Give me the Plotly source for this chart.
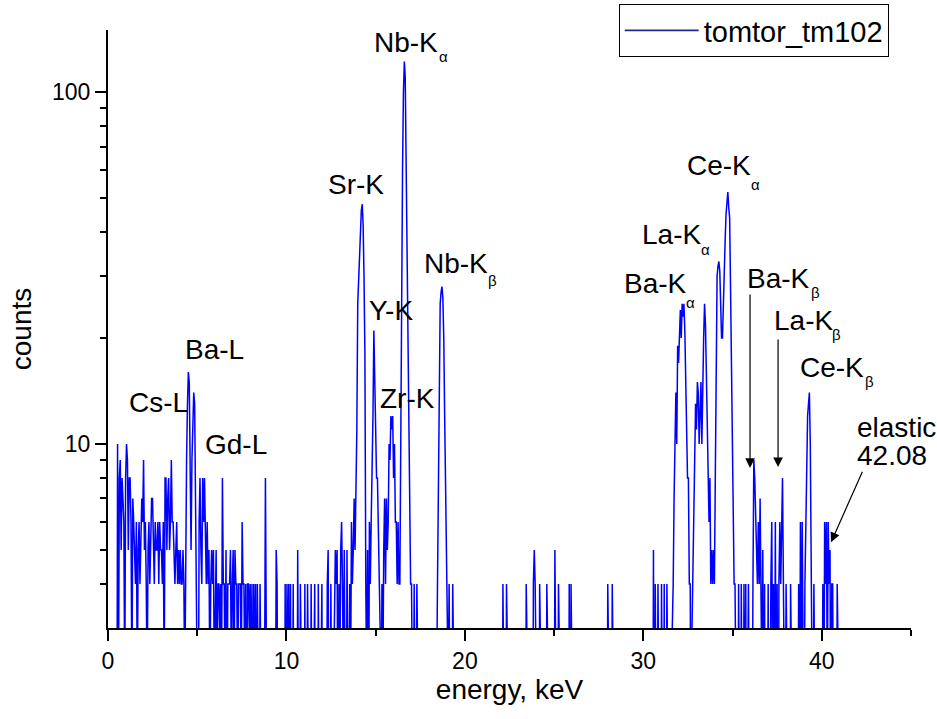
import numpy as np
import plotly.graph_objects as go

# ---------------- data ----------------
# MCA spectrum, 20 channels per row (one row ~ 1 keV), counts
calib_offset_keV = 0.034
calib_gain_keV = 0.05022

counts_rows = [
    [0, 0, 0, 0, 0, 0, 0, 0, 0, 0, 10, 2, 8, 9, 5, 8, 7, 6, 2, 8],
    [10, 9, 5, 8, 8, 6, 2, 7, 6, 5, 4, 6, 2, 5, 6, 4, 5, 7, 6, 9],
    [5, 6, 4, 2, 5, 6, 4, 5, 7, 7, 5, 4, 6, 5, 5, 6, 4, 6, 5, 5],
    [4, 6, 2, 8, 8, 5, 7, 8, 5, 6, 9, 6, 6, 5, 4, 5, 6, 4, 5, 4],
    [5, 4, 4, 5, 4, 2, 6, 9, 13, 16, 15, 8, 5, 9, 11, 14, 13, 8, 6, 2],
    [1, 6, 8, 5, 4, 8, 6, 8, 5, 4, 6, 4, 5, 2, 4, 5, 4, 5, 2, 4],
    [5, 2, 4, 4, 3, 4, 2, 8, 4, 4, 2, 5, 1, 4, 4, 4, 5, 2, 4, 5],
    [2, 5, 4, 4, 2, 4, 4, 4, 2, 6, 4, 4, 2, 4, 1, 4, 4, 3, 4, 2],
    [4, 1, 4, 2, 4, 1, 4, 2, 1, 4, 2, 1, 3, 1, 2, 8, 2, 1, 2, 1],
    [2, 1, 0, 2, 1, 0, 1, 5, 4, 1, 0, 2, 1, 0, 2, 1, 0, 4, 1, 4],
    [2, 4, 1, 4, 0, 1, 4, 0, 1, 2, 0, 5, 1, 0, 4, 0, 2, 1, 0, 4],
    [0, 1, 4, 0, 1, 0, 4, 1, 0, 2, 4, 0, 1, 0, 4, 1, 0, 2, 4, 0],
    [1, 0, 2, 1, 4, 5, 1, 0, 4, 1, 0, 2, 4, 5, 4, 5, 1, 4, 2, 5],
    [6, 4, 2, 5, 1, 0, 5, 2, 1, 4, 2, 6, 4, 5, 7, 5, 7, 11, 25, 30],
    [33, 40, 46, 48, 42, 30, 18, 4, 2, 5, 1, 6, 4, 6, 8, 12, 21, 14, 9, 8],
    [8, 6, 5, 3, 1, 4, 2, 5, 7, 4, 7, 5, 6, 10, 9, 12, 11, 12, 8, 10],
    [6, 6, 4, 6, 4, 4, 12, 22, 60, 100, 122, 110, 65, 30, 18, 9, 6, 4, 4, 1],
    [1, 4, 0, 2, 4, 0, 1, 0, 0, 1, 0, 0, 0, 1, 0, 0, 0, 0, 1, 0],
    [0, 1, 0, 0, 1, 2, 2, 4, 9, 16, 25, 27, 28, 26, 20, 12, 8, 7, 5, 2],
    [4, 1, 0, 1, 4, 0, 1, 0, 0, 1, 0, 0, 1, 0, 0, 0, 1, 0, 0, 0],
    [0, 1, 0, 0, 0, 1, 0, 0, 2, 0, 0, 0, 1, 0, 0, 0, 0, 1, 0, 0],
    [0, 0, 1, 0, 0, 0, 0, 1, 0, 0, 0, 0, 2, 0, 0, 0, 1, 0, 0, 0],
    [4, 1, 0, 0, 4, 0, 0, 1, 0, 0, 0, 0, 1, 0, 0, 0, 0, 0, 1, 0],
    [0, 0, 0, 1, 0, 0, 4, 0, 0, 1, 0, 0, 0, 0, 4, 5, 4, 0, 1, 0],
    [0, 4, 0, 1, 0, 0, 0, 0, 0, 4, 0, 0, 1, 0, 0, 0, 0, 0, 5, 0],
    [0, 0, 4, 0, 0, 1, 0, 0, 0, 0, 0, 0, 0, 0, 4, 0, 4, 0, 0, 0],
    [0, 1, 0, 0, 0, 0, 0, 0, 1, 0, 0, 0, 0, 0, 0, 1, 0, 0, 0, 0],
    [0, 0, 0, 0, 1, 0, 0, 0, 0, 0, 0, 0, 0, 0, 0, 0, 0, 4, 0, 0],
    [0, 0, 4, 0, 0, 0, 0, 1, 0, 0, 0, 0, 0, 0, 0, 0, 1, 0, 0, 0],
    [0, 0, 0, 1, 0, 0, 0, 0, 0, 0, 0, 1, 0, 0, 0, 0, 0, 0, 0, 0],
    [0, 0, 1, 0, 0, 0, 0, 0, 5, 0, 4, 0, 0, 4, 0, 0, 0, 4, 0, 0],
    [4, 0, 1, 4, 0, 1, 0, 2, 1, 3, 4, 7, 11, 14, 10, 19, 17, 22, 24, 20],
    [25, 23, 25, 21, 14, 10, 8, 8, 4, 4, 1, 3, 4, 6, 9, 13, 11, 15, 14, 10],
    [12, 15, 10, 16, 20, 25, 22, 16, 12, 8, 6, 8, 4, 5, 4, 5, 4, 8, 18, 30],
    [32, 33, 31, 24, 20, 20, 26, 32, 38, 45, 50, 52, 47, 44, 28, 18, 10, 6, 4, 4],
    [1, 2, 0, 4, 1, 0, 4, 2, 0, 4, 1, 4, 0, 2, 4, 1, 0, 2, 1, 4],
    [9, 8, 6, 5, 4, 6, 4, 7, 4, 2, 5, 1, 4, 0, 2, 1, 4, 0, 1, 4],
    [6, 2, 4, 1, 6, 1, 4, 0, 4, 6, 4, 6, 8, 4, 2, 1, 4, 1, 0, 1],
    [0, 4, 1, 0, 1, 0, 2, 0, 1, 0, 4, 1, 6, 2, 6, 4, 1, 4, 6, 9],
    [12, 13, 14, 10, 6, 4, 1, 4, 0, 1, 0, 1, 0, 0, 2, 0, 1, 4, 1, 6],
    [4, 6, 2, 6, 4, 5, 1, 4, 4, 1, 0, 1, 0, 4, 0, 0, 0, 0, 0, 0],
]

series_name = "tomtor_tm102"
x_ticks = [0, 10, 20, 30, 40]
x_minor_ticks = [5, 15, 25, 35, 45]
y_ticks = [10, 100]
y_minor_ticks = [4, 5, 6, 7, 8, 9, 20, 30, 40, 50, 60, 70, 80, 90]

# peak labels: (text, energy keV of left edge, counts at text middle)
peak_labels = [
    ("Cs-L", 1.04, 13.08), ("Ba-L", 4.18, 18.51), ("Gd-L", 5.31, 9.94),
    ("Sr-K", 12.20, 54.5), ("Y-K", 14.50, 23.88), ("Zr-K", 15.12, 13.43),
    ("Nb-K", 14.78, 138.1), ("Nb-K", 17.59, 32.5),
    ("Ba-K", 28.80, 28.5), ("La-K", 29.82, 39.3), ("Ce-K", 32.34, 61.7),
    ("Ba-K", 35.70, 29.6), ("La-K", 37.22, 22.5), ("Ce-K", 38.68, 16.45),
    ("elastic", 41.87, 11.17), ("42.08", 41.87, 9.25),
]
# subscripts: (symbol, energy keV at centre, counts at centre)
sub_labels = [
    ("α", 18.78, 126.0), ("β", 21.56, 29.1),
    ("α", 32.67, 25.3), ("α", 33.51, 35.6), ("α", 36.31, 54.5),
    ("β", 39.62, 26.9), ("β", 40.80, 20.4), ("β", 42.70, 15.0),
]
# arrows: (energy keV of head, counts at head, dx px to tail, dy px to tail)
arrows = [
    (35.98, 8.55, 0, -175),
    (37.55, 8.60, 0, -129),
    (40.52, 5.26, 32, -72),
]

# ---------------- build ----------------
counts = np.array([c for row in counts_rows for c in row], dtype=float)
energy = calib_offset_keV + calib_gain_keV * np.arange(len(counts))
# zero-count channels cannot sit on a log axis: draw them below the visible range
y_plot = np.where(counts > 0, counts, 0.5)

FONT = "Liberation Sans, Arial, sans-serif"

fig = go.Figure()
fig.add_trace(go.Scatter(
    x=energy, y=y_plot, mode="lines",
    line=dict(color="#0000ff", width=1.5),
    showlegend=False, hoverinfo="skip",
))
fig.add_trace(go.Scatter(
    x=[None], y=[None], mode="lines", name=series_name,
    line=dict(color="#1f2a8c", width=1.6),
))

ann = []
for text, ex, cy in peak_labels:
    ann.append(dict(x=ex, y=np.log10(cy), xref="x", yref="y", text=text,
                    showarrow=False, xanchor="left", yanchor="middle",
                    font=dict(family=FONT, size=28, color="black")))
for text, ex, cy in sub_labels:
    ann.append(dict(x=ex, y=np.log10(cy), xref="x", yref="y", text=text,
                    showarrow=False, xanchor="center", yanchor="middle",
                    font=dict(family=FONT, size=15, color="black")))
for ex, cy, dx, dy in arrows:
    ann.append(dict(x=ex, y=np.log10(cy), xref="x", yref="y", text="",
                    showarrow=True, ax=dx, ay=dy, arrowhead=2, arrowsize=1.6,
                    arrowwidth=1.2, arrowcolor="black"))

fig.update_layout(
    width=937, height=719,
    margin=dict(l=108, r=26, t=30, b=91, autoexpand=False),
    paper_bgcolor="white", plot_bgcolor="white",
    font=dict(family=FONT, color="black"),
    annotations=ann,
    legend=dict(x=0.636, y=1.0435, xanchor="left", yanchor="top",
                bordercolor="black", borderwidth=1, bgcolor="white",
                font=dict(family=FONT, size=29, color="black"),
                itemwidth=74),
    xaxis=dict(
        range=[0, 45], tickvals=x_ticks, ticks="outside", ticklen=11, tickwidth=1.5,
        tickcolor="black", showline=True, linewidth=2, linecolor="black",
        showgrid=False, zeroline=False,
        tickfont=dict(family=FONT, size=23, color="black"),
        minor=dict(tickvals=x_minor_ticks, ticks="outside", ticklen=6,
                   tickwidth=1.5, tickcolor="black", showgrid=False),
        title=dict(text="energy, keV", font=dict(family=FONT, size=28, color="black"),
                   standoff=3),
    ),
    yaxis=dict(
        type="log", range=[np.log10(3), np.log10(150)],
        tickvals=y_ticks, ticktext=[str(v) for v in y_ticks],
        ticks="outside", ticklen=11, tickwidth=1.5, tickcolor="black",
        showline=True, linewidth=2, linecolor="black",
        showgrid=False, zeroline=False,
        tickfont=dict(family=FONT, size=23, color="black"),
        minor=dict(tickvals=y_minor_ticks, ticks="outside", ticklen=6,
                   tickwidth=1.5, tickcolor="black", showgrid=False),
        title=dict(text="counts", font=dict(family=FONT, size=28, color="black"),
                   standoff=12),
    ),
)

fig.write_html("out.html", config={"displayModeBar": False},
               post_script="document.body.style.margin='0';")
